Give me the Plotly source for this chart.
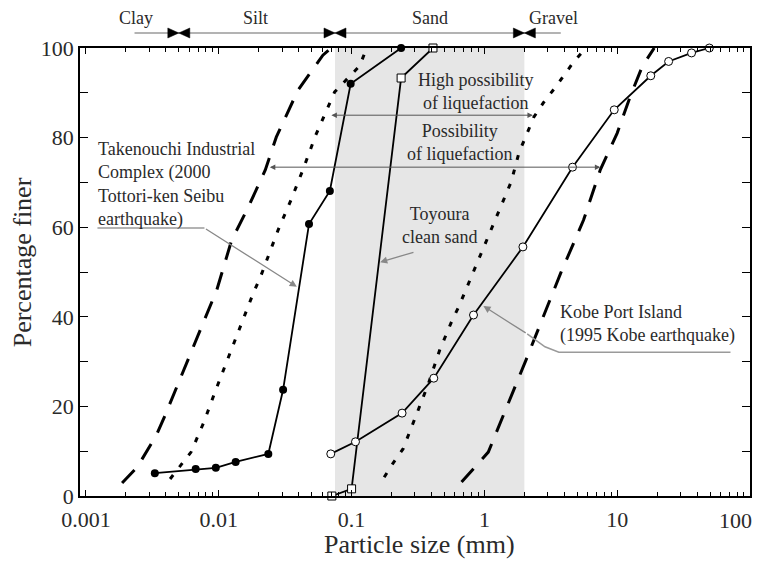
import numpy as np
import plotly.graph_objects as go

# Grain size distribution curves (particle size in mm, percentage finer)
takenouchi_d = [0.0033, 0.0067, 0.0095, 0.0134, 0.0236, 0.0305, 0.0478, 0.0686, 0.0984, 0.236]
takenouchi_p = [5.1, 6.0, 6.3, 7.6, 9.4, 23.7, 60.7, 68.1, 92.0, 100.0]

toyoura_d = [0.071, 0.100, 0.236, 0.41]
toyoura_p = [0.0, 1.6, 93.3, 100.0]

kobe_d = [0.0697, 0.107, 0.240, 0.416, 0.828, 1.95, 4.61, 9.5, 17.9, 24.4, 36.3, 49.4]
kobe_p = [9.4, 12.1, 18.5, 26.3, 40.4, 55.6, 73.4, 86.2, 93.8, 97.0, 98.9, 100.0]

# Boundaries of the liquefaction-prone gradation zones
poss_left_d = [0.00187, 0.00244, 0.00339, 0.00389, 0.00966, 0.0125, 0.0167, 0.0224, 0.0271, 0.0395, 0.0608, 0.070]
poss_left_p = [2.9, 6.5, 13.6, 17.6, 46.0, 57.1, 64.5, 72.8, 80.1, 90.6, 98.4, 100.0]
poss_right_d = [0.673, 1.07, 2.06, 2.9, 3.76, 5.58, 7.46, 10.0, 12.5, 15.5, 19.0]
poss_right_p = [3.1, 9.8, 30.4, 41.5, 49.8, 61.6, 72.8, 81.0, 89.1, 96.0, 100.0]
high_left_d = [0.0043, 0.0052, 0.00618, 0.00773, 0.0095, 0.0182, 0.0206, 0.028, 0.035, 0.043, 0.0538, 0.0746, 0.115, 0.13]
high_left_p = [3.8, 6.9, 9.8, 16.5, 23.7, 45.3, 48.9, 59.4, 66.1, 72.8, 80.6, 90.2, 96.0, 100.0]
high_right_d = [0.176, 0.206, 0.244, 0.30, 0.376, 0.461, 0.577, 0.64, 1.09, 1.27, 1.59, 1.82, 2.36, 2.8, 3.44, 4.7, 5.8]
high_right_p = [4.2, 7.4, 10.5, 17.4, 24.8, 32.6, 39.5, 42.2, 58.7, 63.4, 70.1, 76.6, 84.6, 87.9, 91.3, 96.9, 100.0]

# Width ranges marked by double arrows: (from mm, to mm, percentage finer)
high_range = (0.0686, 2.32, 85.0)
poss_range = (0.0236, 7.47, 73.4)

# Soil classification (mm)
class_names = ["Clay", "Silt", "Sand", "Gravel"]
class_label_d = [0.0024, 0.019, 0.39, 3.3]
class_bounds = [0.005, 0.075, 2.0]
class_line_d = [0.00232, 3.76]
sand_band = (0.075, 2.0)

x_ticks = [0.001, 0.01, 0.1, 1, 10, 100]
x_ticktext = ["0.001", "0.01", "0.1", "1", "10", ""]
y_ticks = [0, 20, 40, 60, 80, 100]

SERIF = "Liberation Serif, Times New Roman, serif"
TXT = "#2a2a2a"
XR = [-3.045, 2.0]
BAR_Y, BAR_LABEL_Y = 1.0335, 1.067   # paper heights of the classification bar

fig = go.Figure()

# shaded sand range
fig.add_shape(type="rect", xref="x", yref="paper", x0=sand_band[0], x1=sand_band[1],
              y0=0, y1=1, fillcolor="#e6e6e6", line_width=0, layer="below")

# classification bar with bow-tie separators
fig.add_shape(type="line", xref="x", yref="paper", x0=class_line_d[0], x1=class_line_d[1],
              y0=BAR_Y, y1=BAR_Y, line=dict(color="#9a9a9a", width=1.5))
for b in class_bounds:
    for path in ["M -11,-5 L 0,0 L -11,5 Z", "M 11,-5 L 0,0 L 11,5 Z"]:
        fig.add_shape(type="path", xref="x", yref="paper", xsizemode="pixel", ysizemode="pixel",
                      xanchor=b, yanchor=BAR_Y, path=path, fillcolor="black",
                      line=dict(color="black", width=0.5))

dash_long = dict(color="black", width=3, dash="18px,13px")
dash_dot = dict(color="black", width=3, dash="5px,10px")
for d, p, ln in [(poss_left_d, poss_left_p, dash_long), (poss_right_d, poss_right_p, dash_long),
                 (high_left_d, high_left_p, dash_dot), (high_right_d, high_right_p, dash_dot)]:
    fig.add_trace(go.Scatter(x=d, y=p, mode="lines", line=ln, hoverinfo="skip"))

fig.add_trace(go.Scatter(x=takenouchi_d, y=takenouchi_p, mode="lines+markers",
                         line=dict(color="black", width=1.8),
                         marker=dict(symbol="circle", size=8, color="black"), cliponaxis=False))
fig.add_trace(go.Scatter(x=toyoura_d, y=toyoura_p, mode="lines+markers",
                         line=dict(color="black", width=1.8),
                         marker=dict(symbol="square", size=8, color="white",
                                     line=dict(color="black", width=1)), cliponaxis=False))
fig.add_trace(go.Scatter(x=kobe_d, y=kobe_p, mode="lines+markers",
                         line=dict(color="black", width=1.8),
                         marker=dict(symbol="circle", size=8, color="white",
                                     line=dict(color="black", width=1)), cliponaxis=False))

# leader lines
leader = dict(color="#9a9a9a", width=1.5)
fig.add_trace(go.Scatter(x=[0.00122, 0.0078], y=[59.8, 59.8], mode="lines", line=leader, hoverinfo="skip"))
fig.add_trace(go.Scatter(x=[2.10, 2.86, 3.64, 71.3], y=[36.2, 33.3, 32.1, 32.1], mode="lines",
                         line=leader, hoverinfo="skip"))

ann = []
for name, xd in zip(class_names, class_label_d):
    ann.append(dict(x=np.log10(xd), y=BAR_LABEL_Y, xref="x", yref="paper", text=name,
                    showarrow=False, xanchor="center", yanchor="middle",
                    font=dict(family=SERIF, size=18, color=TXT)))

# double arrows for liquefaction ranges
for lo, hi, pct in [high_range, poss_range]:
    ann.append(dict(x=np.log10(hi), y=pct, ax=np.log10(lo), ay=pct, xref="x", yref="y",
                    axref="x", ayref="y", text="", showarrow=True, arrowside="end+start",
                    arrowhead=2, arrowsize=1.1, arrowwidth=1, arrowcolor="#555"))

# leader arrow heads
for (x0, y0), (x1, y1) in [((0.0078, 59.8), (0.0387, 46.7)),
                           ((0.300, 54.5), (0.164, 52.2)),
                           ((2.10, 36.2), (0.983, 42.4))]:
    ann.append(dict(x=np.log10(x1), y=y1, ax=np.log10(x0), ay=y0, xref="x", yref="y",
                    axref="x", ayref="y", text="", showarrow=True, arrowhead=2,
                    arrowsize=1.1, arrowwidth=1.3, arrowcolor="#888"))

lab = dict(font=dict(family=SERIF, size=18, color=TXT), showarrow=False,
           xref="paper", yref="paper", yanchor="middle")
ann.append(dict(x=0.591, y=0.904, xanchor="center", text="High possibility<br>of liquefaction", align="center", **lab))
ann.append(dict(x=0.567, y=0.790, xanchor="center", text="Possibility<br>of liquefaction", align="center", **lab))
ann.append(dict(x=0.024, y=0.695, xanchor="left", align="left",
                text="Takenouchi Industrial<br>Complex (2000<br>Tottori-ken Seibu<br>earthquake)", **lab))
ann.append(dict(x=0.536, y=0.603, xanchor="center", text="Toyoura<br>clean sand", align="center", **lab))
ann.append(dict(x=0.714, y=0.383, xanchor="left", align="left",
                text="Kobe Port Island<br>(1995 Kobe earthquake)", **lab))

# axis titles and last tick label
ann.append(dict(x=-0.0863, y=0.522, xref="paper", yref="paper", xanchor="center", yanchor="middle",
                text="Percentage finer", textangle=-90, showarrow=False,
                font=dict(family=SERIF, size=26, color=TXT)))
ann.append(dict(x=0.506, y=-0.109, xref="paper", yref="paper", xanchor="center", yanchor="middle",
                text="Particle size (mm)", showarrow=False, font=dict(family=SERIF, size=26, color=TXT)))
ann.append(dict(x=0.979, y=-0.054, xref="paper", yref="paper", xanchor="center", yanchor="middle",
                text="100", showarrow=False, font=dict(family=SERIF, size=22, color=TXT)))

minor_x = [k * 10.0 ** e for e in range(-3, 2) for k in range(2, 10)]

fig.update_layout(
    width=757, height=561, margin=dict(l=80, r=5, t=48, b=65),
    paper_bgcolor="white", plot_bgcolor="white", showlegend=False,
    annotations=ann,
    xaxis=dict(type="log", range=XR, tickvals=x_ticks, ticktext=x_ticktext,
               ticks="inside", ticklen=6, tickwidth=1, tickcolor="black",
               showline=True, linecolor="black", linewidth=1.5, mirror="allticks",
               showgrid=False, zeroline=False, ticklabelstandoff=3,
               tickfont=dict(family=SERIF, size=22, color=TXT),
               minor=dict(tickvals=minor_x, ticks="inside", ticklen=4, tickcolor="black", showgrid=False)),
    yaxis=dict(range=[0, 100], tickvals=y_ticks, ticks="inside", ticklen=8,
               tickwidth=1, tickcolor="black", showline=True, linecolor="black", linewidth=1.5,
               mirror="allticks", showgrid=False, zeroline=False,
               tickfont=dict(family=SERIF, size=22, color=TXT),
               minor=dict(tickvals=[10, 30, 50, 70, 90], ticks="inside", ticklen=8,
                          tickcolor="black", showgrid=False)),
)

fig.write_html("out.html")
